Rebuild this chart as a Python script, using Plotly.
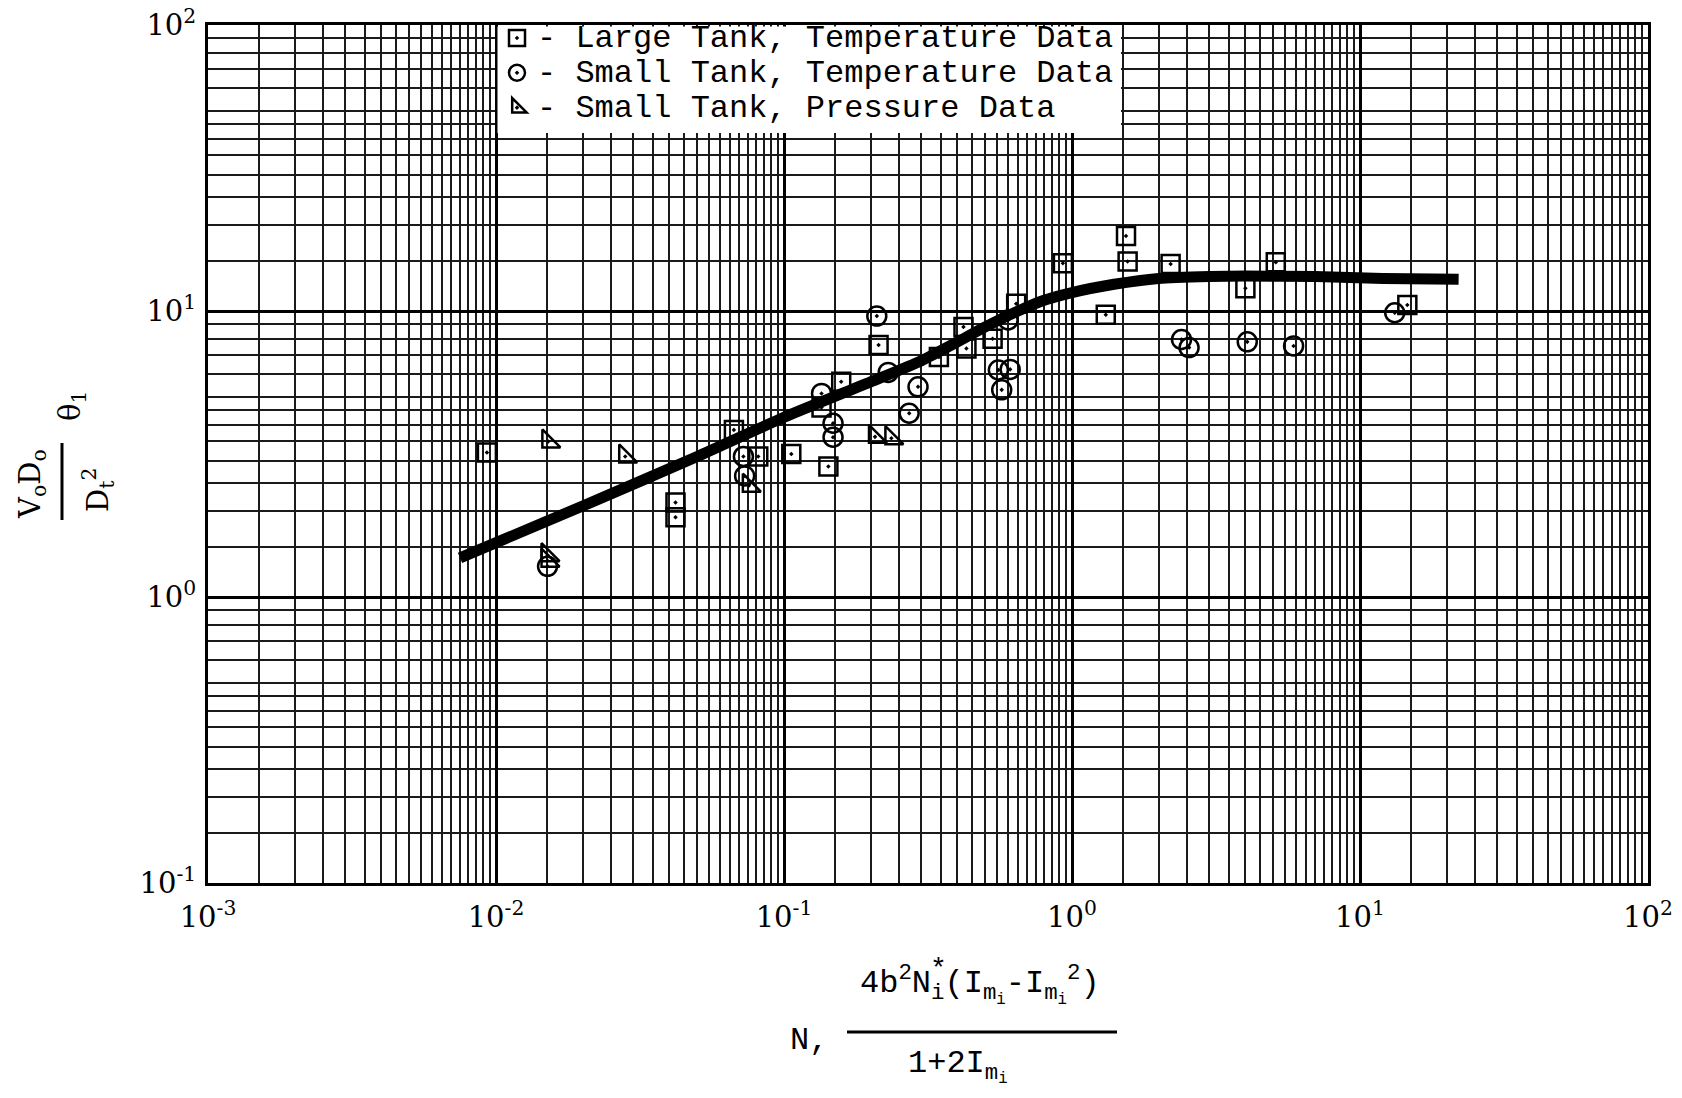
import plotly.graph_objects as go

# ---------------- data ----------------
large_x = [0.0093, 0.042, 0.042, 0.067, 0.0814, 0.106, 0.1426, 0.135, 0.158,
           0.213, 0.345, 0.42, 0.43, 0.53, 0.64, 0.93, 1.31, 1.54, 1.56, 2.2,
           4.0, 5.1, 14.6]
large_y = [3.2, 2.14, 1.9, 3.84, 3.1, 3.16, 2.86, 4.6, 5.66,
           7.6, 6.9, 8.8, 7.4, 8.0, 10.6, 14.7, 9.7, 18.3, 14.9, 14.6,
           12.0, 14.8, 10.5]

small_x = [0.0151, 0.0723, 0.073, 0.135, 0.148, 0.148, 0.21, 0.23, 0.272, 0.292,
           0.555, 0.61, 0.57, 0.60, 2.4, 2.55, 4.06, 5.88, 13.2]
small_y = [1.28, 3.1, 2.65, 5.15, 4.05, 3.62, 9.6, 6.1, 4.39, 5.43,
           6.22, 6.25, 5.30, 9.3, 7.95, 7.45, 7.8, 7.55, 9.86]

press_x = [0.0151, 0.0151, 0.0152, 0.0281, 0.0755, 0.207, 0.236]
press_y = [1.40, 1.34, 3.5, 3.1, 2.45, 3.63, 3.59]

curve_x = [0.0075, 0.02, 0.05, 0.1, 0.2, 0.3, 0.4, 0.5, 0.65, 0.8, 1.0, 1.4,
           2.0, 3.0, 4.0, 7.0, 12.0, 22.0]
curve_y = [1.37, 2.08, 3.1, 4.25, 5.65, 6.7, 7.8, 8.8, 10.0, 10.9, 11.6, 12.4,
           13.0, 13.2, 13.25, 13.2, 13.0, 12.9]

x_decades = [1e-3, 1e-2, 1e-1, 1, 10, 100]
x_labels = ["10<sup>-3</sup>", "10<sup>-2</sup>", "10<sup>-1</sup>",
            "10<sup>0</sup>", "10<sup>1</sup>", "10<sup>2</sup>"]
y_decades = [0.1, 1, 10, 100]
y_labels = ["10<sup>-1</sup>", "10<sup>0</sup>", "10<sup>1</sup>", "10<sup>2</sup>"]

x_grid_mult = [1.5, 2, 2.5, 3, 3.5, 4, 4.5, 5, 5.5, 6, 6.5, 7, 7.5, 8, 8.5, 9, 9.5]
y_grid_mult = [1.5, 2, 2.5, 3, 3.5, 4, 4.5, 5, 6, 7, 8, 9]

legend_names = ["- Large Tank, Temperature Data",
                "- Small Tank, Temperature Data",
                "- Small Tank, Pressure Data"]

# ---------------- figure ----------------
x_minor = [m * d for d in x_decades[:-1] for m in x_grid_mult]
y_minor = [m * d for d in y_decades[:-1] for m in y_grid_mult]

W, H = 1682, 1098
L, R, T, B = 208, 34, 25, 215
PW, PH = W - L - R, H - T - B


def xp(px):
    return (px - L) / PW


def yp(py):
    return (H - B - py) / PH


def big(s):
    return '<span style="font-size:32px">' + s + '</span>'


fig = go.Figure()
mk_line = dict(width=2.5, color="black")
fig.add_trace(go.Scatter(x=large_x, y=large_y, mode="markers", name=big(legend_names[0]),
                         marker=dict(symbol="square-open-dot", size=18, color="black", line=mk_line)))
fig.add_trace(go.Scatter(x=small_x, y=small_y, mode="markers", name=big(legend_names[1]),
                         marker=dict(symbol="circle-open-dot", size=19, color="black", line=mk_line)))
fig.add_trace(go.Scatter(x=press_x, y=press_y, mode="markers", name=big(legend_names[2]),
                         marker=dict(symbol="triangle-sw-open-dot", size=20, color="black", line=mk_line)))
fig.add_trace(go.Scatter(x=curve_x, y=curve_y, mode="lines", showlegend=False, hoverinfo="skip",
                         line=dict(color="black", width=11, shape="spline", smoothing=0.6)))

tickfont = dict(family="DejaVu Serif", size=29, color="black")
axis_common = dict(type="log", tickmode="array", showgrid=True, gridcolor="black", gridwidth=3,
                   showline=True, mirror=True, linecolor="black", linewidth=3, ticks="",
                   zeroline=False, tickfont=tickfont)

fig.update_layout(
    width=W, height=H,
    margin=dict(l=L, r=R, t=T, b=B, autoexpand=False),
    paper_bgcolor="white", plot_bgcolor="white",
    xaxis=dict(range=[-3, 2], tickvals=x_decades, ticktext=x_labels, ticklabelstandoff=6,
               minor=dict(tickmode="array", tickvals=x_minor, showgrid=True,
                          gridcolor="#1a1a1a", gridwidth=1.6, ticks=""),
               **axis_common),
    yaxis=dict(range=[-1, 2], tickvals=y_decades, ticktext=y_labels, ticklabelstandoff=3,
               minor=dict(tickmode="array", tickvals=y_minor, showgrid=True,
                          gridcolor="#1a1a1a", gridwidth=1.6, ticks=""),
               **axis_common),
    legend=dict(x=xp(497), y=1 + 9.5 / PH, xanchor="left", yanchor="top",
                bgcolor="rgba(0,0,0,0)", borderwidth=0,
                font=dict(family="Liberation Mono", size=24.5, color="black"),
                tracegroupgap=0, itemsizing="trace"),
    showlegend=True,
)

mono = dict(family="Liberation Mono", size=32, color="black")
serif = dict(family="DejaVu Serif", size=29, color="black")
annotations = [
    # x-axis title: N, fraction
    dict(text="N,", x=xp(830), y=yp(1040), xanchor="right", yanchor="middle", font=mono),
    dict(text="4b<sup>2</sup>N<sub>i</sub>(I<sub>m<sub>i</sub></sub>-I<sub>m<sub>i</sub></sub><sup>2</sup>)",
         x=xp(980), y=yp(1011), xanchor="center", yanchor="bottom", font=mono),
    dict(text="*", x=xp(938), y=yp(969), xanchor="center", yanchor="middle",
         font=dict(family="Liberation Mono", size=28, color="black")),
    dict(text="1+2I<sub>m<sub>i</sub></sub>", x=xp(958), y=yp(1043), xanchor="center",
         yanchor="top", font=mono),
    # y-axis title (rotated)
    dict(text="V<sub>o</sub>D<sub>o</sub>", x=xp(32), y=yp(484), xanchor="center",
         yanchor="middle", textangle=-90, font=serif),
    dict(text="D<sub>t</sub><sup>2</sup>", x=xp(98), y=yp(490), xanchor="center",
         yanchor="middle", textangle=-90, font=serif),
    dict(text="θ<sub>1</sub>", x=xp(72), y=yp(406), xanchor="center",
         yanchor="middle", textangle=-90, font=serif),
]
for a in annotations:
    a.update(xref="paper", yref="paper", showarrow=False)
fig.update_layout(annotations=annotations)

fig.update_layout(shapes=[
    # white backing of the legend area (no data lies there)
    dict(type="rect", xref="paper", yref="paper", x0=xp(497.5), x1=xp(1121), y0=yp(133), y1=yp(26.5),
         fillcolor="white", line=dict(width=0), layer="above"),
    # fraction bars of the axis titles
    dict(type="line", xref="paper", yref="paper", x0=xp(847), x1=xp(1117), y0=yp(1032), y1=yp(1032),
         line=dict(color="black", width=3)),
    dict(type="line", xref="paper", yref="paper", x0=xp(62), x1=xp(62), y0=yp(443), y1=yp(520),
         line=dict(color="black", width=3)),
])

fig.write_html("out.html")
